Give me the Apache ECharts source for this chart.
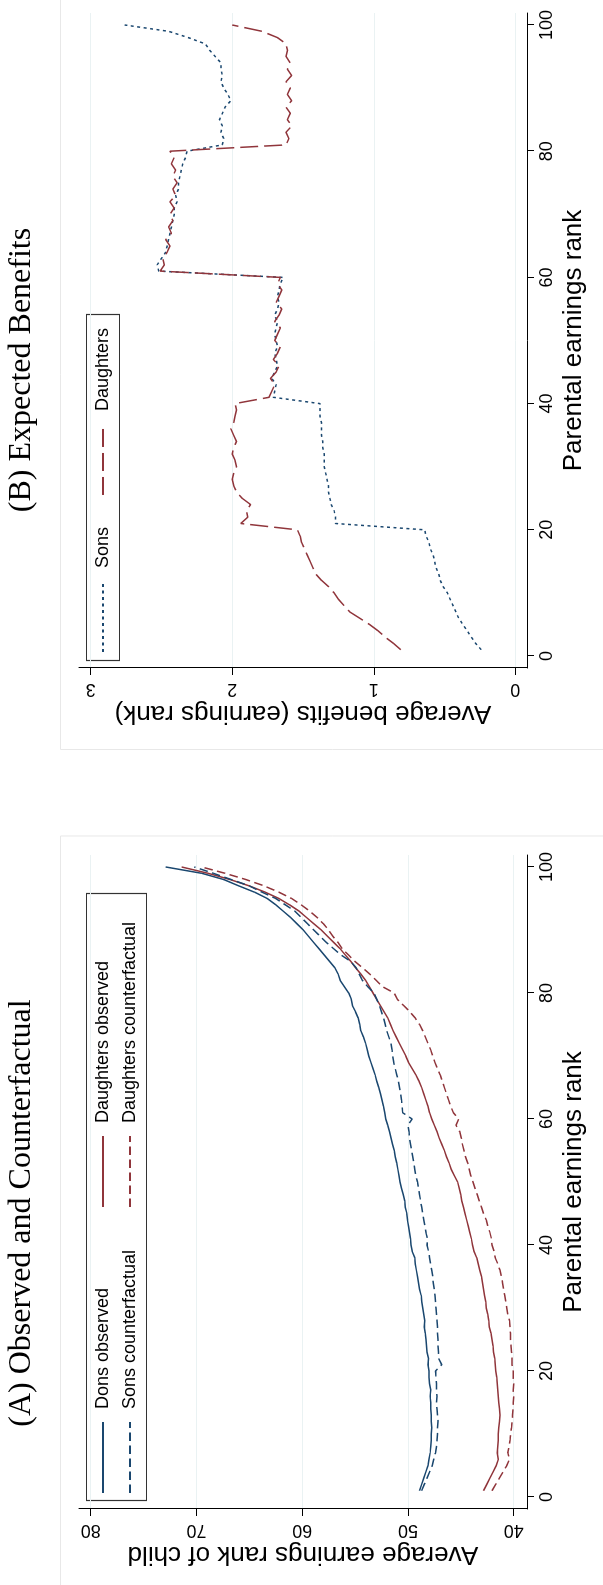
<!DOCTYPE html>
<html>
<head>
<meta charset="utf-8">
<script src="https://cdn.jsdelivr.net/npm/echarts@6/dist/echarts.min.js"></script>
<style>
  html, body { margin: 0; padding: 0; background: #fff; overflow: hidden; width: 603px; height: 1585px; }
  /* the figure is laid out landscape and turned a quarter turn counter-clockwise */
  #chart { position: absolute; left: 0; top: 0; width: 1585px; height: 603px;
           transform-origin: 0 0; transform: translate(0, 1585px) rotate(-90deg); }
</style>
</head>
<body>
<div id="chart"></div>
<script>
// ---- data -------------------------------------------------------------
const parentRank = [1,2,3,4,5,6,7,8,9,10,11,12,13,14,15,16,17,18,19,20,
  21,22,23,24,25,26,27,28,29,30,31,32,33,34,35,36,37,38,39,40,
  41,42,43,44,45,46,47,48,49,50,51,52,53,54,55,56,57,58,59,60,
  61,62,63,64,65,66,67,68,69,70,71,72,73,74,75,76,77,78,79,80,
  81,82,83,84,85,86,87,88,89,90,91,92,93,94,95,96,97,98,99,100];

// Panel A: average earnings rank of child
const sonsObserved = [48.9,48.7,48.5,48.3,48.1,48.0,47.9,47.85,47.8,47.8,
  47.75,47.8,47.8,47.85,47.85,47.9,47.85,47.95,48.0,48.0,
  48.1,48.05,48.2,48.25,48.3,48.35,48.45,48.4,48.5,48.6,
  48.7,48.75,48.9,49.0,49.1,49.2,49.3,49.35,49.6,49.7,
  49.75,49.85,49.95,50.05,50.1,50.25,50.3,50.45,50.6,50.75,
  50.85,50.95,51.05,51.2,51.3,51.45,51.6,51.75,51.9,52.1,
  52.2,52.3,52.45,52.6,52.75,52.95,53.1,53.3,53.5,53.7,
  53.85,54.0,54.2,54.45,54.55,54.7,54.95,55.25,55.35,55.6,
  56.0,56.4,56.6,56.9,57.4,57.9,58.4,58.9,59.4,59.9,
  60.5,61.1,61.8,62.5,63.3,64.5,66.0,67.4,69.5,72.9];
const daughtersObserved = [42.85,42.55,42.25,41.95,41.65,41.45,41.55,41.5,41.45,41.45,
  41.4,41.35,41.3,41.35,41.4,41.45,41.5,41.55,41.6,41.7,
  41.75,41.8,41.9,41.95,42.05,42.15,42.3,42.35,42.45,42.6,
  42.65,42.75,42.85,42.95,43.05,43.2,43.35,43.5,43.75,43.9,
  44.0,44.15,44.3,44.45,44.6,44.75,44.9,45.0,45.15,45.3,
  45.6,45.9,46.1,46.35,46.55,46.8,47.05,47.25,47.5,47.75,
  47.95,48.1,48.3,48.5,48.7,48.95,49.25,49.6,49.95,50.2,
  50.5,50.8,51.1,51.4,51.65,51.9,52.25,52.6,52.95,53.3,
  53.65,54.0,54.45,54.95,55.4,55.9,56.4,57.0,57.6,58.2,
  58.9,59.6,60.3,61.2,62.2,63.5,65.0,66.8,68.9,71.4];
const sonsCounterfactual = [48.7,48.45,48.2,47.95,47.7,47.55,47.4,47.3,47.25,47.2,
  47.2,47.15,47.2,47.25,47.3,47.25,47.3,47.3,47.35,47.4,
  46.8,47.1,47.1,47.15,47.15,47.2,47.2,47.25,47.3,47.35,
  47.4,47.45,47.5,47.6,47.65,47.75,47.85,47.95,48.05,48.2,
  48.15,48.3,48.4,48.5,48.6,48.7,48.8,48.9,49.0,49.1,
  49.25,49.35,49.45,49.55,49.65,49.75,49.85,49.9,50.0,49.6,
  50.5,50.55,50.6,50.7,50.8,50.9,51.05,51.2,51.35,51.45,
  51.5,51.6,51.8,52.0,52.15,52.3,52.5,52.7,52.95,53.2,
  53.8,54.3,54.6,54.9,55.4,56.3,57.0,57.7,58.3,58.9,
  59.5,60.1,60.7,61.6,62.5,63.8,65.0,66.7,68.4,70.2];
const daughtersCounterfactual = [42.05,41.7,41.35,41.0,40.65,40.4,40.55,40.45,40.35,40.3,
  40.2,40.15,40.1,40.05,40.05,40.0,40.05,40.0,40.05,40.05,
  40.15,40.15,40.2,40.25,40.3,40.3,40.35,40.4,40.55,40.65,
  40.75,40.85,40.95,41.05,41.15,41.3,41.5,41.75,41.85,42.05,
  42.1,42.25,42.45,42.6,42.85,43.05,43.25,43.45,43.65,43.85,
  44.05,44.2,44.35,44.55,44.7,44.85,44.95,45.1,45.45,45.2,
  45.7,45.95,46.15,46.35,46.55,46.75,46.95,47.2,47.45,47.65,
  47.85,48.1,48.35,48.6,48.9,49.3,49.8,50.4,51.0,51.3,
  52.4,53.0,53.6,54.3,55.0,55.6,56.2,56.6,57.1,57.5,
  58.0,58.6,59.3,60.1,61.0,62.2,63.6,65.3,67.3,69.5];

// Panel B: average benefits (earnings rank)
const sonsBenefits = [0.24,0.28,0.31,0.34,0.37,0.40,0.42,0.44,0.46,0.48,
  0.51,0.53,0.54,0.56,0.57,0.58,0.60,0.61,0.63,0.64,
  1.27,1.27,1.28,1.30,1.31,1.32,1.32,1.33,1.34,1.35,
  1.35,1.35,1.36,1.36,1.37,1.37,1.37,1.38,1.38,1.38,
  1.71,1.70,1.69,1.72,1.70,1.68,1.69,1.70,1.68,1.69,
  1.70,1.69,1.68,1.70,1.68,1.67,1.68,1.67,1.66,1.64,
  2.52,2.53,2.50,2.47,2.46,2.45,2.44,2.43,2.42,2.41,
  2.41,2.39,2.40,2.38,2.38,2.37,2.36,2.35,2.33,2.32,
  2.07,2.06,2.08,2.07,2.09,2.07,2.05,2.01,2.03,2.06,
  2.08,2.07,2.08,2.08,2.12,2.16,2.19,2.31,2.45,2.76];
const daughtersBenefits = [0.81,0.86,0.92,0.97,1.03,1.10,1.17,1.21,1.25,1.28,
  1.32,1.37,1.41,1.43,1.45,1.47,1.49,1.51,1.52,1.54,
  1.94,1.89,1.90,1.87,1.93,1.97,1.99,2.00,1.99,1.97,
  1.98,2.00,1.99,1.97,1.99,2.01,1.99,1.98,1.97,1.98,
  1.74,1.72,1.70,1.73,1.69,1.67,1.71,1.68,1.66,1.70,
  1.68,1.66,1.70,1.67,1.65,1.69,1.67,1.65,1.68,1.66,
  2.51,2.48,2.49,2.46,2.44,2.47,2.43,2.45,2.42,2.44,
  2.41,2.44,2.40,2.42,2.39,2.42,2.40,2.43,2.41,2.44,
  1.62,1.60,1.62,1.58,1.61,1.59,1.62,1.58,1.61,1.59,
  1.62,1.58,1.61,1.59,1.62,1.61,1.62,1.68,1.79,2.00];

const rankTicks = [0, 20, 40, 60, 80, 100];
const childRankTicks = [40, 50, 60, 70, 80];
const benefitTicks = [0, 1, 2, 3];

// ---- styling ----------------------------------------------------------
const NAVY = '#1a476f';
const MAROON = '#90353b';
const SANS = '"Liberation Sans", Arial, Helvetica, sans-serif';
const SERIF = '"Liberation Serif", "Times New Roman", serif';
const GRID_COLOR = '#eaf2f3';

function pairs(ys) { return parentRank.map((x, i) => [x, ys[i]]); }

function rankAxis(gridIndex) {
  return {
    type: 'value', gridIndex, min: -1.9, max: 101.9,
    name: 'Parental earnings rank', nameLocation: 'middle', nameGap: 30,
    nameTextStyle: { fontSize: 26, color: '#000', fontFamily: SANS },
    axisLine: { show: true, onZero: false, lineStyle: { color: '#000', width: 1 } },
    axisTick: { show: true, length: 7, customValues: rankTicks, lineStyle: { color: '#000', width: 1 } },
    axisLabel: { customValues: rankTicks, fontSize: 18, color: '#000', fontFamily: SANS, margin: 11 },
    splitLine: { show: false }
  };
}
function valueAxis(gridIndex, min, max, ticks, name) {
  return {
    type: 'value', gridIndex, min, max,
    name, nameLocation: 'middle', nameRotate: 90, nameGap: 32,
    nameTextStyle: { fontSize: 26, color: '#000', fontFamily: SANS },
    axisLine: { show: true, onZero: false, lineStyle: { color: '#000', width: 1 } },
    axisTick: { show: true, length: 7, customValues: ticks, lineStyle: { color: '#000', width: 1 } },
    axisLabel: { customValues: ticks, rotate: 90, fontSize: 18, color: '#000', fontFamily: SANS, margin: 12 },
    splitLine: { show: true, lineStyle: { color: GRID_COLOR, width: 1 } }
  };
}
function lineSeries(name, axis, ys, color, type, width) {
  return {
    type: 'line', name, xAxisIndex: axis, yAxisIndex: axis, data: pairs(ys),
    symbol: 'none', showSymbol: false, silent: true, color,
    lineStyle: { color, width: width || 1.5, type }
  };
}
const legendText = { fontSize: 18, color: '#000', fontFamily: SANS, padding: [0, 0, 0, 8] };
// legend keys show the line pattern only, no marker
function legendBlock(left, orient, gap, names) {
  return {
    left, top: 94, orient, padding: 0, itemWidth: 71, itemHeight: 18, itemGap: gap,
    selectedMode: false, textStyle: legendText,
    itemStyle: { opacity: 0, borderWidth: 0 },
    data: names
  };
}

const chart = echarts.init(document.getElementById('chart'), null, { width: 1585, height: 603 });
chart.setOption({
  animation: false,
  backgroundColor: '#fff',
  grid: [
    { left: 76, top: 79, width: 654, height: 448 },
    { left: 917, top: 79, width: 655, height: 448 }
  ],
  xAxis: [rankAxis(0), rankAxis(1)],
  yAxis: [
    valueAxis(0, 38.74, 81.1, childRankTicks, 'Average earnings rank of child'),
    valueAxis(1, -0.083, 3.083, benefitTicks, 'Average benefits (earnings rank)')
  ],
  legend: [
    legendBlock(91, 'vertical', 9, ['Dons observed', 'Sons counterfactual']),
    legendBlock(377, 'vertical', 9, ['Daughters observed', 'Daughters counterfactual']),
    legendBlock(932, 'horizontal', 31, ['Sons', 'Daughters'])
  ],
  series: [
    lineSeries('Dons observed', 0, sonsObserved, NAVY, 'solid'),
    lineSeries('Daughters observed', 0, daughtersObserved, MAROON, 'solid'),
    lineSeries('Sons counterfactual', 0, sonsCounterfactual, NAVY, [8.5, 4.5]),
    lineSeries('Daughters counterfactual', 0, daughtersCounterfactual, MAROON, [8.5, 4.5]),
    lineSeries('Sons', 1, sonsBenefits, NAVY, [3, 3.5]),
    lineSeries('Daughters', 1, daughtersBenefits, MAROON, [18, 6])
  ],
  graphic: [
    // panel outlines
    { type: 'rect', silent: true, z: -10, shape: { x: -2, y: 60.5, width: 751, height: 560 },
      style: { fill: 'none', stroke: '#e8e8e8', lineWidth: 1 } },
    { type: 'rect', silent: true, z: -10, shape: { x: 835.5, y: 60.5, width: 760, height: 560 },
      style: { fill: 'none', stroke: '#e8e8e8', lineWidth: 1 } },
    // legend frames
    { type: 'rect', silent: true, shape: { x: 84.5, y: 86.5, width: 607, height: 60 },
      style: { fill: 'none', stroke: '#333', lineWidth: 1.2 } },
    { type: 'rect', silent: true, shape: { x: 924.5, y: 86.5, width: 346, height: 33 },
      style: { fill: 'none', stroke: '#333', lineWidth: 1.2 } },
    // panel titles
    { type: 'text', silent: true, x: 372, y: 22,
      style: { text: '(A) Observed and Counterfactual', fontSize: 32, fontFamily: SERIF, fill: '#000',
               textAlign: 'center', textVerticalAlign: 'middle', verticalAlign: 'middle' } },
    { type: 'text', silent: true, x: 1215, y: 22,
      style: { text: '(B) Expected Benefits', fontSize: 32, fontFamily: SERIF, fill: '#000',
               textAlign: 'center', textVerticalAlign: 'middle', verticalAlign: 'middle' } }
  ]
});
</script>
</body>
</html>
